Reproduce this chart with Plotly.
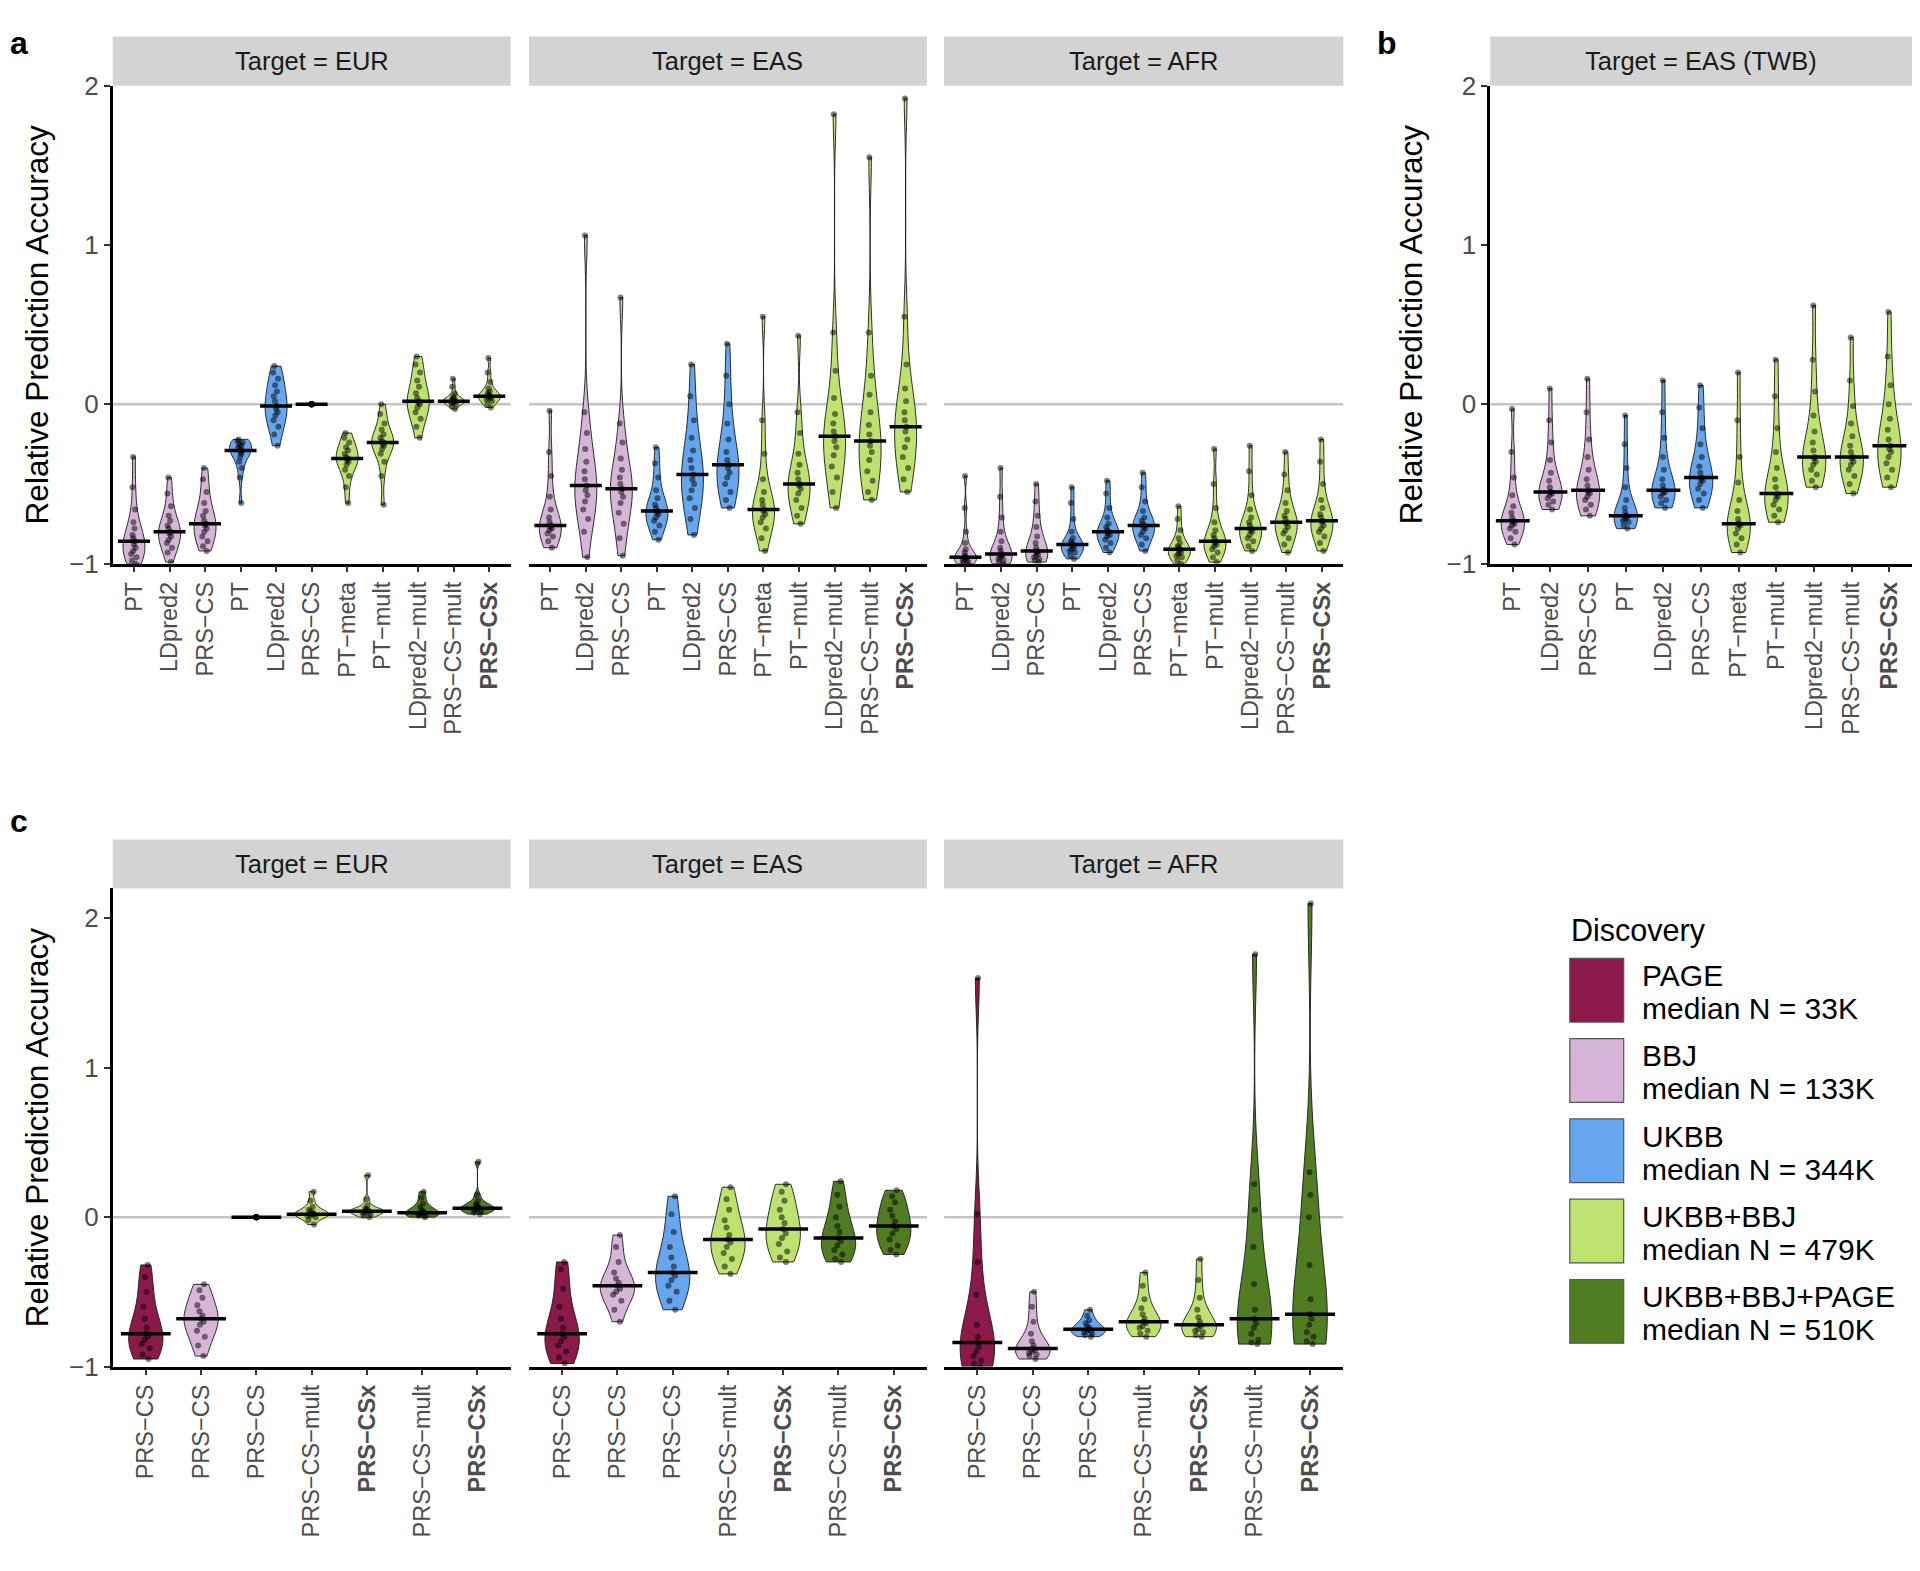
import numpy as np
import plotly.graph_objects as go

FONT = "Liberation Sans, Arial, Helvetica, sans-serif"

# ---------------- data ----------------
COLORS = {
    "PAGE": "#8B1A4B",
    "BBJ": "#D7B5D9",
    "UKBB": "#66A6EE",
    "UKBB+BBJ": "#BDE270",
    "UKBB+BBJ+PAGE": "#517D22",
}

METHODS_A = ["PT", "LDpred2", "PRS−CS", "PT", "LDpred2", "PRS−CS",
             "PT−meta", "PT−mult", "LDpred2−mult", "PRS−CS−mult", "<b>PRS−CSx</b>"]
DISC_A = ["BBJ"] * 3 + ["UKBB"] * 3 + ["UKBB+BBJ"] * 5

METHODS_C = ["PRS−CS", "PRS−CS", "PRS−CS", "PRS−CS−mult", "<b>PRS−CSx</b>",
             "PRS−CS−mult", "<b>PRS−CSx</b>"]
DISC_C = ["PAGE", "BBJ", "UKBB", "UKBB+BBJ", "UKBB+BBJ", "UKBB+BBJ+PAGE", "UKBB+BBJ+PAGE"]

LEGEND_NAMES = ["PAGE", "BBJ", "UKBB", "UKBB+BBJ", "UKBB+BBJ+PAGE"]
LEGEND_N = ["33K", "133K", "344K", "479K", "510K"]

A_EUR = [
    [-1.00, -0.98, -0.96, -0.94, -0.92, -0.90, -0.88, -0.86, -0.84, -0.82, -0.78, -0.74, -0.66, -0.52, -0.33],
    [-0.99, -0.93, -0.90, -0.87, -0.85, -0.83, -0.81, -0.80, -0.78, -0.76, -0.73, -0.70, -0.64, -0.56, -0.46],
    [-0.92, -0.89, -0.86, -0.83, -0.80, -0.78, -0.76, -0.75, -0.73, -0.70, -0.67, -0.62, -0.55, -0.47, -0.40],
    [-0.62, -0.46, -0.40, -0.36, -0.33, -0.31, -0.30, -0.29, -0.28, -0.27, -0.26, -0.25, -0.24, -0.23, -0.22],
    [-0.26, -0.19, -0.14, -0.10, -0.07, -0.05, -0.03, -0.01, 0.02, 0.05, 0.08, 0.12, 0.16, 0.20, 0.24],
    [0.0] * 15,
    [-0.62, -0.52, -0.45, -0.41, -0.38, -0.36, -0.35, -0.34, -0.33, -0.31, -0.29, -0.27, -0.24, -0.21, -0.18],
    [-0.63, -0.45, -0.36, -0.31, -0.28, -0.26, -0.25, -0.24, -0.23, -0.21, -0.19, -0.16, -0.12, -0.06, 0.00],
    [-0.21, -0.14, -0.09, -0.05, -0.02, 0.00, 0.01, 0.02, 0.04, 0.07, 0.11, 0.15, 0.20, 0.25, 0.30],
    [-0.03, -0.01, 0.00, 0.01, 0.01, 0.02, 0.02, 0.02, 0.03, 0.03, 0.04, 0.05, 0.07, 0.11, 0.16],
    [-0.02, 0.00, 0.02, 0.03, 0.04, 0.04, 0.05, 0.05, 0.06, 0.07, 0.08, 0.10, 0.14, 0.20, 0.29],
]

A_EAS = [
    [-0.90, -0.86, -0.83, -0.81, -0.79, -0.78, -0.77, -0.76, -0.74, -0.71, -0.66, -0.58, -0.45, -0.30, -0.04],
    [-0.96, -0.80, -0.72, -0.66, -0.61, -0.57, -0.54, -0.51, -0.47, -0.42, -0.36, -0.28, -0.18, -0.05, 1.06],
    [-0.95, -0.84, -0.75, -0.68, -0.62, -0.58, -0.55, -0.53, -0.50, -0.46, -0.41, -0.34, -0.24, -0.12, 0.67],
    [-0.85, -0.80, -0.76, -0.73, -0.71, -0.69, -0.68, -0.67, -0.65, -0.63, -0.59, -0.54, -0.46, -0.37, -0.27],
    [-0.82, -0.72, -0.65, -0.59, -0.54, -0.50, -0.47, -0.44, -0.40, -0.35, -0.29, -0.21, -0.10, 0.05, 0.25],
    [-0.65, -0.60, -0.55, -0.50, -0.46, -0.43, -0.40, -0.38, -0.35, -0.30, -0.22, -0.12, 0.00, 0.18, 0.38],
    [-0.92, -0.84, -0.78, -0.74, -0.71, -0.69, -0.67, -0.66, -0.63, -0.60, -0.55, -0.47, -0.31, -0.10, 0.55],
    [-0.75, -0.70, -0.65, -0.60, -0.56, -0.53, -0.51, -0.50, -0.47, -0.43, -0.38, -0.31, -0.18, -0.05, 0.43],
    [-0.65, -0.55, -0.46, -0.39, -0.32, -0.27, -0.23, -0.20, -0.17, -0.12, -0.06, 0.04, 0.21, 0.45, 1.82],
    [-0.60, -0.55, -0.48, -0.42, -0.35, -0.30, -0.26, -0.23, -0.19, -0.13, -0.05, 0.06, 0.18, 0.45, 1.55],
    [-0.55, -0.47, -0.40, -0.33, -0.27, -0.22, -0.17, -0.14, -0.10, -0.05, 0.02, 0.10, 0.25, 0.55, 1.92],
]

A_AFR = [
    [-1.00, -0.99, -0.99, -0.98, -0.97, -0.97, -0.96, -0.96, -0.95, -0.93, -0.91, -0.87, -0.80, -0.65, -0.45],
    [-1.00, -0.99, -0.98, -0.97, -0.96, -0.95, -0.95, -0.94, -0.92, -0.90, -0.86, -0.80, -0.71, -0.58, -0.40],
    [-0.99, -0.98, -0.97, -0.96, -0.95, -0.94, -0.93, -0.92, -0.90, -0.87, -0.83, -0.77, -0.70, -0.61, -0.50],
    [-0.97, -0.95, -0.93, -0.92, -0.91, -0.90, -0.89, -0.88, -0.87, -0.86, -0.84, -0.80, -0.72, -0.62, -0.52],
    [-0.93, -0.90, -0.87, -0.85, -0.83, -0.82, -0.81, -0.80, -0.79, -0.77, -0.75, -0.71, -0.65, -0.56, -0.48],
    [-0.92, -0.88, -0.84, -0.82, -0.80, -0.78, -0.77, -0.76, -0.75, -0.73, -0.71, -0.67, -0.61, -0.52, -0.43],
    [-1.00, -0.98, -0.96, -0.95, -0.94, -0.93, -0.92, -0.91, -0.90, -0.89, -0.87, -0.84, -0.79, -0.72, -0.64],
    [-0.99, -0.96, -0.93, -0.91, -0.89, -0.88, -0.87, -0.86, -0.84, -0.82, -0.79, -0.74, -0.65, -0.50, -0.28],
    [-0.92, -0.89, -0.86, -0.84, -0.82, -0.80, -0.79, -0.78, -0.76, -0.74, -0.71, -0.66, -0.57, -0.42, -0.26],
    [-0.93, -0.88, -0.84, -0.81, -0.79, -0.77, -0.75, -0.74, -0.72, -0.70, -0.67, -0.62, -0.54, -0.44, -0.30],
    [-0.92, -0.87, -0.83, -0.80, -0.78, -0.76, -0.74, -0.73, -0.71, -0.69, -0.65, -0.60, -0.50, -0.36, -0.22],
]

B_TWB = [
    [-0.88, -0.84, -0.80, -0.78, -0.76, -0.75, -0.74, -0.73, -0.71, -0.68, -0.64, -0.57, -0.46, -0.30, -0.03],
    [-0.66, -0.63, -0.61, -0.59, -0.57, -0.56, -0.55, -0.55, -0.52, -0.48, -0.43, -0.35, -0.24, -0.10, 0.10],
    [-0.70, -0.66, -0.63, -0.60, -0.58, -0.56, -0.55, -0.54, -0.51, -0.47, -0.41, -0.33, -0.22, -0.05, 0.16],
    [-0.78, -0.76, -0.74, -0.73, -0.72, -0.71, -0.70, -0.70, -0.68, -0.65, -0.60, -0.52, -0.40, -0.25, -0.07],
    [-0.65, -0.62, -0.60, -0.58, -0.56, -0.55, -0.54, -0.54, -0.51, -0.47, -0.41, -0.33, -0.21, -0.05, 0.15],
    [-0.65, -0.60, -0.56, -0.53, -0.50, -0.48, -0.47, -0.46, -0.43, -0.39, -0.33, -0.25, -0.15, -0.02, 0.12],
    [-0.93, -0.88, -0.84, -0.81, -0.78, -0.76, -0.75, -0.75, -0.72, -0.67, -0.60, -0.49, -0.33, -0.10, 0.20],
    [-0.74, -0.70, -0.66, -0.63, -0.60, -0.58, -0.57, -0.56, -0.52, -0.47, -0.40, -0.30, -0.15, 0.05, 0.28],
    [-0.52, -0.48, -0.44, -0.41, -0.38, -0.36, -0.34, -0.33, -0.29, -0.24, -0.17, -0.07, 0.08, 0.28, 0.62],
    [-0.56, -0.50, -0.45, -0.41, -0.38, -0.36, -0.34, -0.33, -0.30, -0.26, -0.20, -0.12, -0.01, 0.15, 0.42],
    [-0.52, -0.46, -0.41, -0.37, -0.33, -0.30, -0.28, -0.26, -0.22, -0.16, -0.09, 0.00, 0.12, 0.30, 0.58],
]

C_EUR = [
    [-0.95, -0.92, -0.88, -0.85, -0.82, -0.80, -0.78, -0.74, -0.68, -0.60, -0.50, -0.40, -0.32],
    [-0.93, -0.86, -0.80, -0.76, -0.72, -0.70, -0.68, -0.66, -0.63, -0.59, -0.54, -0.49, -0.45],
    [0.0] * 13,
    [-0.05, -0.02, 0.00, 0.01, 0.01, 0.02, 0.02, 0.03, 0.04, 0.05, 0.07, 0.11, 0.17],
    [0.00, 0.01, 0.02, 0.03, 0.03, 0.04, 0.04, 0.05, 0.05, 0.06, 0.08, 0.12, 0.28],
    [0.00, 0.01, 0.01, 0.02, 0.02, 0.03, 0.03, 0.04, 0.05, 0.07, 0.09, 0.13, 0.17],
    [0.02, 0.03, 0.04, 0.05, 0.05, 0.06, 0.06, 0.07, 0.08, 0.09, 0.11, 0.15, 0.37],
]

C_EAS = [
    [-0.98, -0.94, -0.90, -0.86, -0.83, -0.80, -0.78, -0.74, -0.68, -0.60, -0.48, -0.35, -0.30],
    [-0.70, -0.62, -0.56, -0.52, -0.50, -0.48, -0.46, -0.44, -0.41, -0.37, -0.30, -0.20, -0.12],
    [-0.62, -0.56, -0.50, -0.46, -0.42, -0.39, -0.37, -0.33, -0.27, -0.20, -0.10, 0.02, 0.14],
    [-0.38, -0.33, -0.28, -0.24, -0.20, -0.17, -0.15, -0.12, -0.07, -0.02, 0.05, 0.12, 0.20],
    [-0.30, -0.27, -0.23, -0.18, -0.14, -0.11, -0.08, -0.04, 0.00, 0.05, 0.11, 0.17, 0.22],
    [-0.30, -0.28, -0.25, -0.22, -0.19, -0.16, -0.14, -0.10, -0.06, 0.00, 0.07, 0.15, 0.24],
    [-0.25, -0.22, -0.19, -0.15, -0.11, -0.08, -0.06, -0.03, 0.01, 0.05, 0.10, 0.14, 0.18],
]

C_AFR = [
    [-1.00, -0.98, -0.96, -0.93, -0.90, -0.87, -0.84, -0.80, -0.72, -0.52, -0.30, 0.02, 1.60],
    [-0.95, -0.93, -0.92, -0.91, -0.90, -0.89, -0.88, -0.86, -0.83, -0.78, -0.70, -0.60, -0.50],
    [-0.80, -0.79, -0.78, -0.77, -0.76, -0.76, -0.75, -0.74, -0.73, -0.71, -0.69, -0.66, -0.62],
    [-0.80, -0.78, -0.76, -0.74, -0.73, -0.71, -0.70, -0.68, -0.65, -0.61, -0.55, -0.46, -0.37],
    [-0.80, -0.79, -0.77, -0.76, -0.75, -0.73, -0.72, -0.70, -0.67, -0.62, -0.54, -0.42, -0.28],
    [-0.85, -0.84, -0.82, -0.78, -0.74, -0.71, -0.68, -0.62, -0.45, -0.20, 0.05, 0.22, 1.76],
    [-0.85, -0.83, -0.80, -0.77, -0.72, -0.68, -0.65, -0.55, -0.32, 0.00, 0.15, 0.30, 2.10],
]

# ---------------- layout geometry ----------------
# The page body has an 8px default margin, so the figure is 16px smaller than the window.
PAGE_W, PAGE_H = 1920, 1571
BODY_M = 8
W, H = PAGE_W - 2 * BODY_M, PAGE_H - 2 * BODY_M
SX, SY = PAGE_W / 1568, PAGE_H / 1280   # reference-preview px -> page px
V_SCALE, V_OFF = 0.982, 12.5            # empirical vertical correction of the capture


def fx(xs):
    return min(1.0, max(0.0, (xs * SX - BODY_M) / W))


def fy(ys):
    ys = (ys - V_OFF) / V_SCALE
    return min(1.0, max(0.0, 1 - (ys * SY - BODY_M) / H))


ROW_A = [fy(460), fy(70)]
ROW_C = [fy(1115), fy(725)]
STRIP_A = fy(30)
STRIP_C = fy(685)
XD = [[fx(92), fx(417)], [fx(432), fx(757)], [fx(771), fx(1097)]]
XB = [fx(1217), fx(1565)]

panels = [
    dict(data=A_EUR, methods=METHODS_A, disc=DISC_A, xd=XD[0], yd=ROW_A, st=STRIP_A, yr=[-1, 2], strip="Target = EUR", yax=True),
    dict(data=A_EAS, methods=METHODS_A, disc=DISC_A, xd=XD[1], yd=ROW_A, st=STRIP_A, yr=[-1, 2], strip="Target = EAS", yax=False),
    dict(data=A_AFR, methods=METHODS_A, disc=DISC_A, xd=XD[2], yd=ROW_A, st=STRIP_A, yr=[-1, 2], strip="Target = AFR", yax=False),
    dict(data=B_TWB, methods=METHODS_A, disc=DISC_A, xd=XB, yd=ROW_A, st=STRIP_A, yr=[-1, 2], strip="Target = EAS (TWB)", yax=True),
    dict(data=C_EUR, methods=METHODS_C, disc=DISC_C, xd=XD[0], yd=ROW_C, st=STRIP_C, yr=[-1, 2.2], strip="Target = EUR", yax=True),
    dict(data=C_EAS, methods=METHODS_C, disc=DISC_C, xd=XD[1], yd=ROW_C, st=STRIP_C, yr=[-1, 2.2], strip="Target = EAS", yax=False),
    dict(data=C_AFR, methods=METHODS_C, disc=DISC_C, xd=XD[2], yd=ROW_C, st=STRIP_C, yr=[-1, 2.2], strip="Target = AFR", yax=False),
]

fig = go.Figure()
shapes = []
annotations = []
layout_axes = {}

for k, p in enumerate(panels, start=1):
    sfx = "" if k == 1 else str(k)
    xa, ya = f"x{sfx}", f"y{sfx}"
    n = len(p["methods"])
    for i, vals in enumerate(p["data"]):
        vals = np.asarray(vals, dtype=float)
        col = COLORS[p["disc"][i]]
        if np.ptp(vals) > 0:
            fig.add_trace(go.Violin(
                x=[i] * len(vals), y=vals, xaxis=xa, yaxis=ya,
                width=0.62, scalemode="width", spanmode="hard",
                points="all", pointpos=0, jitter=0.3,
                fillcolor=col, opacity=1,
                line=dict(color="#1a1a1a", width=0.9),
                marker=dict(size=6, color="rgba(0,0,0,0.5)", line=dict(width=0)),
                box_visible=False, meanline_visible=False,
                showlegend=False, hoverinfo="skip",
            ))
        else:
            fig.add_trace(go.Scatter(
                x=[i] * len(vals), y=vals, xaxis=xa, yaxis=ya, mode="markers",
                marker=dict(size=6, color="rgba(0,0,0,0.5)"),
                showlegend=False, hoverinfo="skip",
            ))
        med = float(np.median(vals))
        fig.add_trace(go.Scatter(
            x=[i - 0.45, i + 0.45], y=[med, med], xaxis=xa, yaxis=ya,
            mode="lines", line=dict(color="black", width=3.5),
            showlegend=False, hoverinfo="skip",
        ))

    layout_axes[f"xaxis{sfx}"] = dict(
        domain=p["xd"], anchor=ya, range=[-0.6, n - 0.4],
        tickmode="array", tickvals=list(range(n)), ticktext=p["methods"],
        tickangle=-90, ticks="outside", ticklen=6, tickwidth=2, tickcolor="#333333",
        showline=True, linecolor="black", linewidth=2.5, mirror=False,
        showgrid=False, zeroline=False,
        tickfont=dict(family=FONT, size=23.5, color="#4D4D4D"),
    )
    layout_axes[f"yaxis{sfx}"] = dict(
        domain=p["yd"], anchor=xa, range=p["yr"],
        tickmode="array", tickvals=[-1, 0, 1, 2],
        showticklabels=p["yax"], ticks="outside" if p["yax"] else "",
        ticklen=6, tickwidth=2, tickcolor="#333333",
        showline=p["yax"], linecolor="black", linewidth=2.5,
        showgrid=False, zeroline=False,
        tickfont=dict(family=FONT, size=26, color="#4D4D4D"),
    )
    # reference line at 0
    shapes.append(dict(type="line", xref=f"{xa} domain", yref=ya, x0=0, x1=1, y0=0, y1=0,
                       line=dict(color="#C4C4C4", width=2.5), layer="below"))
    # strip
    shapes.append(dict(type="rect", xref="paper", yref="paper",
                       x0=p["xd"][0], x1=p["xd"][1], y0=p["yd"][1], y1=p["st"],
                       fillcolor="#D3D3D3", line=dict(width=0), layer="below"))
    annotations.append(dict(text=p["strip"], xref="paper", yref="paper",
                            x=(p["xd"][0] + p["xd"][1]) / 2, y=(p["yd"][1] + p["st"]) / 2,
                            xanchor="center", yanchor="middle", showarrow=False,
                            font=dict(family=FONT, size=25.5, color="#1A1A1A")))

# panel letters (a and b sit against the top edge of the figure)
for letter, xs, y, ya_ in [("a", 6, 1.0, "top"), ("b", 1123, 1.0, "top"), ("c", 6, fy(670), "middle")]:
    annotations.append(dict(text=f"<b>{letter}</b>", xref="paper", yref="paper", x=fx(xs), y=y,
                            xanchor="left", yanchor=ya_, showarrow=False,
                            font=dict(family=FONT, size=32, color="black")))

# y axis titles
for xs, ys in [(30, 265), (1152, 265), (30, 920)]:
    annotations.append(dict(text="Relative Prediction Accuracy", xref="paper", yref="paper",
                            x=fx(xs), y=fy(ys), xanchor="center", yanchor="middle", textangle=-90,
                            showarrow=False, font=dict(family=FONT, size=31.5, color="black")))

# legend
annotations.append(dict(text="Discovery", xref="paper", yref="paper", x=fx(1281), y=fy(759),
                        xanchor="left", yanchor="middle", showarrow=False,
                        font=dict(family=FONT, size=30.5, color="black")))
for j, name in enumerate(LEGEND_NAMES):
    top = 782 + j * 65.5
    shapes.append(dict(type="rect", xref="paper", yref="paper",
                       x0=fx(1282), x1=fx(1326), y0=fy(top + 52), y1=fy(top),
                       fillcolor=COLORS[name], line=dict(color="#555555", width=1.2)))
    annotations.append(dict(text=name, xref="paper", yref="paper", x=fx(1339), y=fy(top + 14),
                            xanchor="left", yanchor="middle", showarrow=False,
                            font=dict(family=FONT, size=30, color="black")))
    annotations.append(dict(text=f"median N = {LEGEND_N[j]}", xref="paper", yref="paper",
                            x=fx(1339), y=fy(top + 41),
                            xanchor="left", yanchor="middle", showarrow=False,
                            font=dict(family=FONT, size=30, color="black")))

fig.update_layout(
    width=W, height=H, autosize=False,
    margin=dict(l=0, r=0, t=0, b=0),
    paper_bgcolor="white", plot_bgcolor="white",
    showlegend=False, shapes=shapes, annotations=annotations,
    font=dict(family=FONT),
    **layout_axes,
)

fig.write_html("out.html")
